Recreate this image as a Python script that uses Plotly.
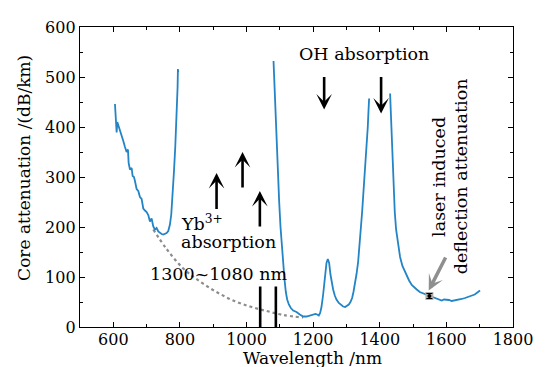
import plotly.graph_objects as go

# ---------------- data ----------------
# segment 1 (visible / short wavelength part)
seg1_nm = [605, 610, 612, 615, 618, 622, 625, 630, 635, 640, 644, 646, 650, 655, 658, 662,
           665, 670, 675, 680, 685, 690, 695, 700, 705, 710, 715, 720, 725, 730, 735, 740,
           745, 750, 755, 760, 765, 770, 774, 778, 782, 786, 789, 791, 793, 794, 795]
seg1_att = [446, 389, 410, 404, 399, 392, 383, 372, 360, 350, 355, 328, 315, 318, 302, 300,
            292, 276, 272, 260, 256, 237, 233, 230, 224, 211, 217, 201, 195, 198, 191, 188,
            186, 185, 186, 188, 192, 205, 225, 260, 310, 360, 400, 440, 480, 516, 510]

# segment 2 (after Yb3+ absorption band, up to first OH peak)
seg2_nm = [1081, 1084, 1087, 1090, 1094, 1098, 1102, 1106, 1110, 1114, 1118, 1122, 1127, 1133,
           1140, 1150, 1160, 1170, 1180, 1190, 1200, 1207, 1212, 1217, 1221, 1225, 1230, 1235,
           1240, 1244, 1248, 1252, 1256, 1260, 1265, 1270, 1277, 1283, 1290, 1296, 1302, 1307,
           1312, 1317, 1321, 1325, 1330, 1335, 1340, 1343, 1347, 1350, 1354, 1357, 1361, 1364,
           1366, 1368]
seg2_att = [532, 480, 420, 370, 310, 250, 200, 160, 125, 95, 70, 55, 45, 38,
            33, 30, 25, 21, 21, 23, 25, 26, 25, 23, 28, 40, 65, 100,
            128, 136, 128, 105, 88, 75, 63, 55, 48, 44, 41, 40, 42, 45,
            50, 58, 70, 84, 105, 130, 165, 195, 230, 260, 295, 324, 357, 400,
            430, 457]

# segment 3 (after OH peak)
seg3_nm = [1431, 1433, 1436, 1438, 1441, 1445, 1449, 1455, 1461, 1468, 1476, 1481, 1488, 1496,
           1503, 1511, 1520, 1531, 1540, 1546, 1553, 1561, 1568, 1576, 1581, 1586, 1593, 1601,
           1608, 1616, 1625, 1636, 1646, 1656, 1666, 1676, 1685, 1693, 1701]
seg3_att = [467, 430, 380, 330, 275, 230, 195, 165, 140, 122, 110, 104, 93, 84,
            79, 75, 70, 67, 65, 63, 61, 59, 57, 55, 53, 53, 55, 55,
            54, 52, 53, 55, 56, 58, 60, 62, 65, 69, 73]

# Rayleigh-type extrapolation (dotted)
fit_nm = [720, 760, 810, 860, 910, 960, 1010, 1060, 1110, 1170]
fit_att = [195, 156, 117, 91, 70, 53, 41, 32, 24, 19]

# laser lines
laser_nm = [1041, 1088]
laser_height = 81

# measured point (laser induced deflection)
meas_nm = [1549]
meas_att = [62]
meas_err = [5]

# arrows: (x, tail value, tip value)
yb_arrow_nm = [910, 988, 1040]
yb_arrow_tail = [233, 276, 198]
yb_arrow_tip = [308, 350, 272]
oh_arrow_nm = [1233, 1404]
oh_arrow_tail = [503, 503]
oh_arrow_tip = [435, 427]

x_ticks = [600, 800, 1000, 1200, 1400, 1600, 1800]
y_ticks = [0, 100, 200, 300, 400, 500, 600]

# ---------------- figure ----------------
BLUE = "#2384c6"
FONT = "DejaVu Serif"

fig = go.Figure()

fig.add_trace(go.Scatter(x=fit_nm, y=fit_att, mode="lines",
                         line=dict(color="#8c8c8c", width=2.2, dash="dot", shape="spline"),
                         hoverinfo="skip"))

for sx, sy in [(seg1_nm, seg1_att), (seg2_nm, seg2_att), (seg3_nm, seg3_att)]:
    fig.add_trace(go.Scatter(x=sx, y=sy, mode="lines",
                             line=dict(color=BLUE, width=1.8)))

lx, ly = [], []
for v in laser_nm:
    lx += [v, v, None]
    ly += [0, laser_height, None]
fig.add_trace(go.Scatter(x=lx, y=ly, mode="lines", line=dict(color="black", width=2.6)))

fig.add_trace(go.Scatter(x=meas_nm, y=meas_att, mode="markers",
                         marker=dict(symbol="square", size=8, color="#b0b0b0")))
fig.add_trace(go.Scatter(x=meas_nm, y=meas_att, mode="markers",
                         marker=dict(symbol="circle", size=4, color="black"),
                         error_y=dict(type="data", array=meas_err, color="black",
                                      thickness=1, width=3)))

annotations = []
for xv, t0, t1 in zip(yb_arrow_nm, yb_arrow_tail, yb_arrow_tip):
    annotations.append(dict(x=xv, y=t1, ax=xv, ay=t0, xref="x", yref="y", axref="x", ayref="y",
                            text="", showarrow=True, arrowhead=3, arrowwidth=2.6,
                            arrowsize=1.0, arrowcolor="black"))
for xv, t0, t1 in zip(oh_arrow_nm, oh_arrow_tail, oh_arrow_tip):
    annotations.append(dict(x=xv, y=t1, ax=xv, ay=t0, xref="x", yref="y", axref="x", ayref="y",
                            text="", showarrow=True, arrowhead=3, arrowwidth=2.6,
                            arrowsize=1.0, arrowcolor="black"))
annotations.append(dict(x=1547, y=73, ax=1600, ay=142, xref="x", yref="y", axref="x", ayref="y",
                        text="", showarrow=True, arrowhead=3, arrowwidth=3.5,
                        arrowsize=0.75, arrowcolor="#8f8f8f"))

tf = dict(family=FONT, size=17.5, color="black")
annotations += [
    dict(x=1353, y=546, xref="x", yref="y", text="OH absorption", showarrow=False,
         xanchor="center", yanchor="middle", font=tf),
    dict(x=797, y=208, xref="x", yref="y", text="Yb<sup>3+</sup>", showarrow=False,
         xanchor="left", yanchor="middle", font=tf),
    dict(x=797, y=171, xref="x", yref="y", text="absorption", showarrow=False,
         xanchor="left", yanchor="middle", font=tf),
    dict(x=917, y=107, xref="x", yref="y", text="1300~1080 nm", showarrow=False,
         xanchor="center", yanchor="middle", font=tf),
    dict(x=1576, y=301, xref="x", yref="y", text="laser induced", showarrow=False,
         textangle=-90, xanchor="center", yanchor="middle", font=tf),
    dict(x=1643, y=301, xref="x", yref="y", text="deflection attenuation", showarrow=False,
         textangle=-90, xanchor="center", yanchor="middle", font=tf),
    dict(x=-0.128, y=0.529, xref="paper", yref="paper", text="Core attenuation /(dB/km)",
         showarrow=False, textangle=-90, xanchor="center", yanchor="middle",
         font=dict(family=FONT, size=17, color="black")),
    dict(x=0.538, y=-0.1034, xref="paper", yref="paper", text="Wavelength /nm",
         showarrow=False, xanchor="center", yanchor="middle",
         font=dict(family=FONT, size=17, color="black")),
]

axis_common = dict(showline=True, linecolor="black", linewidth=1.3, mirror="ticks",
                   ticks="inside", ticklen=5, tickwidth=1.2, tickcolor="black",
                   showgrid=False, zeroline=False,
                   tickfont=dict(family=FONT, size=16, color="black"))

# the page body has an 8 px margin, so the figure is made 8 px smaller and shifted
fig.update_layout(
    width=537, height=359,
    margin=dict(l=72, r=32, t=10, b=40),
    paper_bgcolor="white", plot_bgcolor="white",
    showlegend=False,
    annotations=annotations,
    xaxis=dict(range=[500, 1800], tickvals=x_ticks, ticklabelstandoff=-2,
               minor=dict(ticks="inside", ticklen=3, dtick=100, tick0=500, tickcolor="black",
                          tickwidth=1.2, showgrid=False),
               **axis_common),
    yaxis=dict(range=[0, 600], tickvals=y_ticks,
               minor=dict(ticks="inside", ticklen=3, dtick=50, tick0=0, tickcolor="black",
                          tickwidth=1.2, showgrid=False),
               **axis_common),
)

fig.write_html("out.html")
